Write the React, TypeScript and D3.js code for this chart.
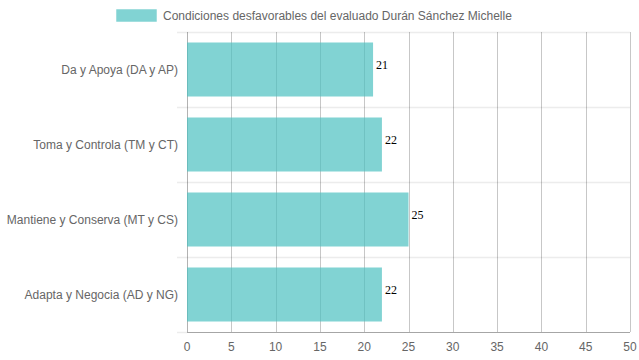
import * as d3 from 'd3';

const categories = ['Da y Apoya (DA y AP)', 'Toma y Controla (TM y CT)', 'Mantiene y Conserva (MT y CS)', 'Adapta y Negocia (AD y NG)'];
const values = [21, 22, 25, 22];
const xTicks = [0, 5, 10, 15, 20, 25, 30, 35, 40, 45, 50];
const seriesLabel = 'Condiciones desfavorables del evaluado Durán Sánchez Michelle';

const W = 639;
const H = 360;
const margin = { top: 32, right: 9, bottom: 28, left: 187 };
const font = '"Liberation Sans", Arial, Helvetica, sans-serif';

export default function App() {
  const x = d3.scaleLinear().domain([0, 50]).range([margin.left, W - margin.right]);
  const y = d3.scaleBand<string>().domain(categories).range([margin.top, H - margin.bottom]).padding(0);
  const barH = y.bandwidth() * 0.72;
  const yTop = margin.top;
  const yBottom = H - margin.bottom;
  const bandLines = categories.map(c => y(c) as number).concat([yBottom]);

  return (
    <svg width={W} height={H} style={{ position: 'absolute', left: 0, top: 0, background: '#fff' }}>
      {/* legend */}
      <rect x={116.5} y={9.5} width={40} height={12} fill="rgba(75,192,192,0.7)" stroke="rgba(75,192,192,0.25)" />
      <text x={163} y={19.5} fontFamily={font} fontSize={12} fill="#666">{seriesLabel}</text>

      {/* horizontal grid (category bands) */}
      {bandLines.slice(0, -1).map((yy, i) => (
        <line key={'h' + i} x1={margin.left - 10} x2={x(50)} y1={yy + 0.5} y2={yy + 0.5} stroke="#ececec" strokeWidth={1.5} />
      ))}
      <line x1={margin.left - 10} x2={margin.left} y1={yBottom + 0.5} y2={yBottom + 0.5} stroke="#ececec" strokeWidth={1.5} />

      {/* vertical grid */}
      {xTicks.map(t => (
        <line key={'v' + t} x1={Math.round(x(t)) + 0.5} x2={Math.round(x(t)) + 0.5} y1={yTop} y2={yBottom} stroke={t === 0 ? 'rgba(0,0,0,0.3)' : 'rgba(0,0,0,0.22)'} />
      ))}

      {/* bars */}
      {categories.map((c, i) => {
        const by = (y(c) as number) + (y.bandwidth() - barH) / 2;
        return (
          <g key={c}>
            <rect x={x(0)} y={by} width={x(values[i]) - x(0)} height={barH} fill="rgba(75,192,192,0.7)" />
            <text x={x(values[i]) + 3} y={by + barH / 2 - 1} fontFamily='"Liberation Serif", "Times New Roman", serif' fontSize={12} fill="#000">{values[i]}</text>
          </g>
        );
      })}

      {/* x axis line */}
      <line x1={margin.left} x2={x(50)} y1={yBottom + 0.5} y2={yBottom + 0.5} stroke="rgba(0,0,0,0.35)" />

      {/* x tick labels */}
      {xTicks.map(t => (
        <text key={'xt' + t} x={x(t)} y={yBottom + 19} textAnchor="middle" fontFamily={font} fontSize={12} fill="#666">{t}</text>
      ))}

      {/* y labels */}
      {categories.map(c => (
        <text key={'yl' + c} x={margin.left - 9} y={(y(c) as number) + y.bandwidth() / 2 + 4} textAnchor="end" fontFamily={font} fontSize={12} fill="#666">{c}</text>
      ))}
    </svg>
  );
}
